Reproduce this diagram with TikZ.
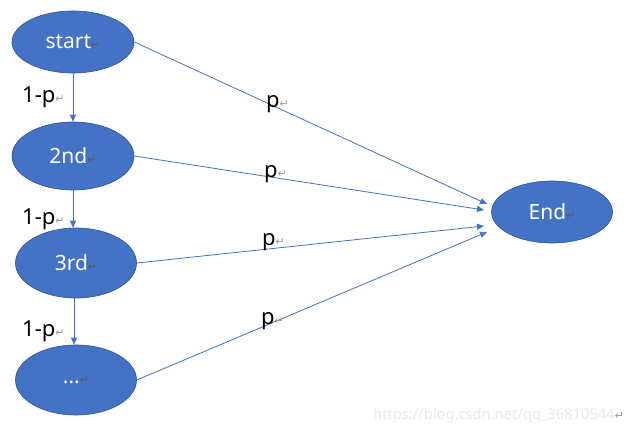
\documentclass[tikz,border=0pt]{standalone}
\usepackage{fontspec}
\setmainfont{Noto Sans}
\newfontfamily\symfont{DejaVu Sans}
\usetikzlibrary{shapes.geometric,arrows.meta}
\definecolor{ofblue}{HTML}{4472C4}
\definecolor{ofedge}{HTML}{2F528F}
\definecolor{retgrey}{HTML}{9A9A9A}
\definecolor{retdark}{HTML}{5A5A5A}
\definecolor{wmgrey}{HTML}{EAEAEA}
\newcommand{\retmark}[1]{{\color{#1}\symfont\fontsize{11}{11}\selectfont ↵}}
\tikzset{
  state/.style={ellipse, draw=ofedge, line width=0.6pt, fill=ofblue, inner sep=0pt,
    text=white, font=\fontsize{21}{21}\selectfont},
  link/.style={draw=ofblue, line width=0.8pt, -{Triangle[length=7pt,width=6pt]}},
  lbl/.style={inner sep=0pt, font=\fontsize{22}{22}\selectfont, text=black},
}
\begin{document}
\begin{tikzpicture}[x=1pt,y=-1pt]
\useasboundingbox[fill=white] (0,0) rectangle (626,435);
\node[state, minimum width=122pt, minimum height=62pt] (s) at (73,42) {start\retmark{retdark}};
\node[state, minimum width=122pt, minimum height=68pt] (n2) at (73,156) {2nd\retmark{retdark}};
\node[state, minimum width=121pt, minimum height=70pt] (n3) at (76,263) {3rd\retmark{retdark}};
\node[state, minimum width=121pt, minimum height=70pt] (n4) at (76,380) {...\retmark{retdark}};
\node[state, minimum width=121pt, minimum height=62pt] (e) at (552,212) {End\retmark{retdark}};
\coordinate (e1) at (487,204);
\coordinate (e2) at (484,210);
\coordinate (e3) at (484,226);
\coordinate (e4) at (487,232);
\draw[link] (s.south) -- (n2.north);
\draw[link] (n2.south) -- (n2.south |- n3.north);
\draw[link] ([xshift=-2pt]n3.south) -- ([xshift=-2pt]n3.south |- n4.north);
\draw[link] (s.east) -- (e1);
\draw[link] (n2.east) -- (e2);
\draw[link] (n3.east) -- (e3);
\draw[link] (n4.east) -- (e4);
\node[lbl, anchor=base west] (l1) at (22,103) {1-p\retmark{retgrey}};
\node[lbl, anchor=base west] (l2) at (22,225) {1-p\retmark{retgrey}};
\node[lbl, anchor=base west] (l3) at (22,337) {1-p\retmark{retgrey}};
\node[lbl, anchor=base west] (p1) at (266,108) {p\retmark{retgrey}};
\node[lbl, anchor=base west] (p2) at (264,178) {p\retmark{retgrey}};
\node[lbl, anchor=base west] (p3) at (262,246) {p\retmark{retgrey}};
\node[lbl, anchor=base west] (p4) at (261,325) {p\retmark{retgrey}};
\node[inner sep=0pt, anchor=west, text=wmgrey, font=\fontsize{14.7}{14.7}\selectfont] (wm) at (373,416) {https://blog.csdn.net/qq\_36810544\retmark{retgrey}};
\end{tikzpicture}
\end{document}
